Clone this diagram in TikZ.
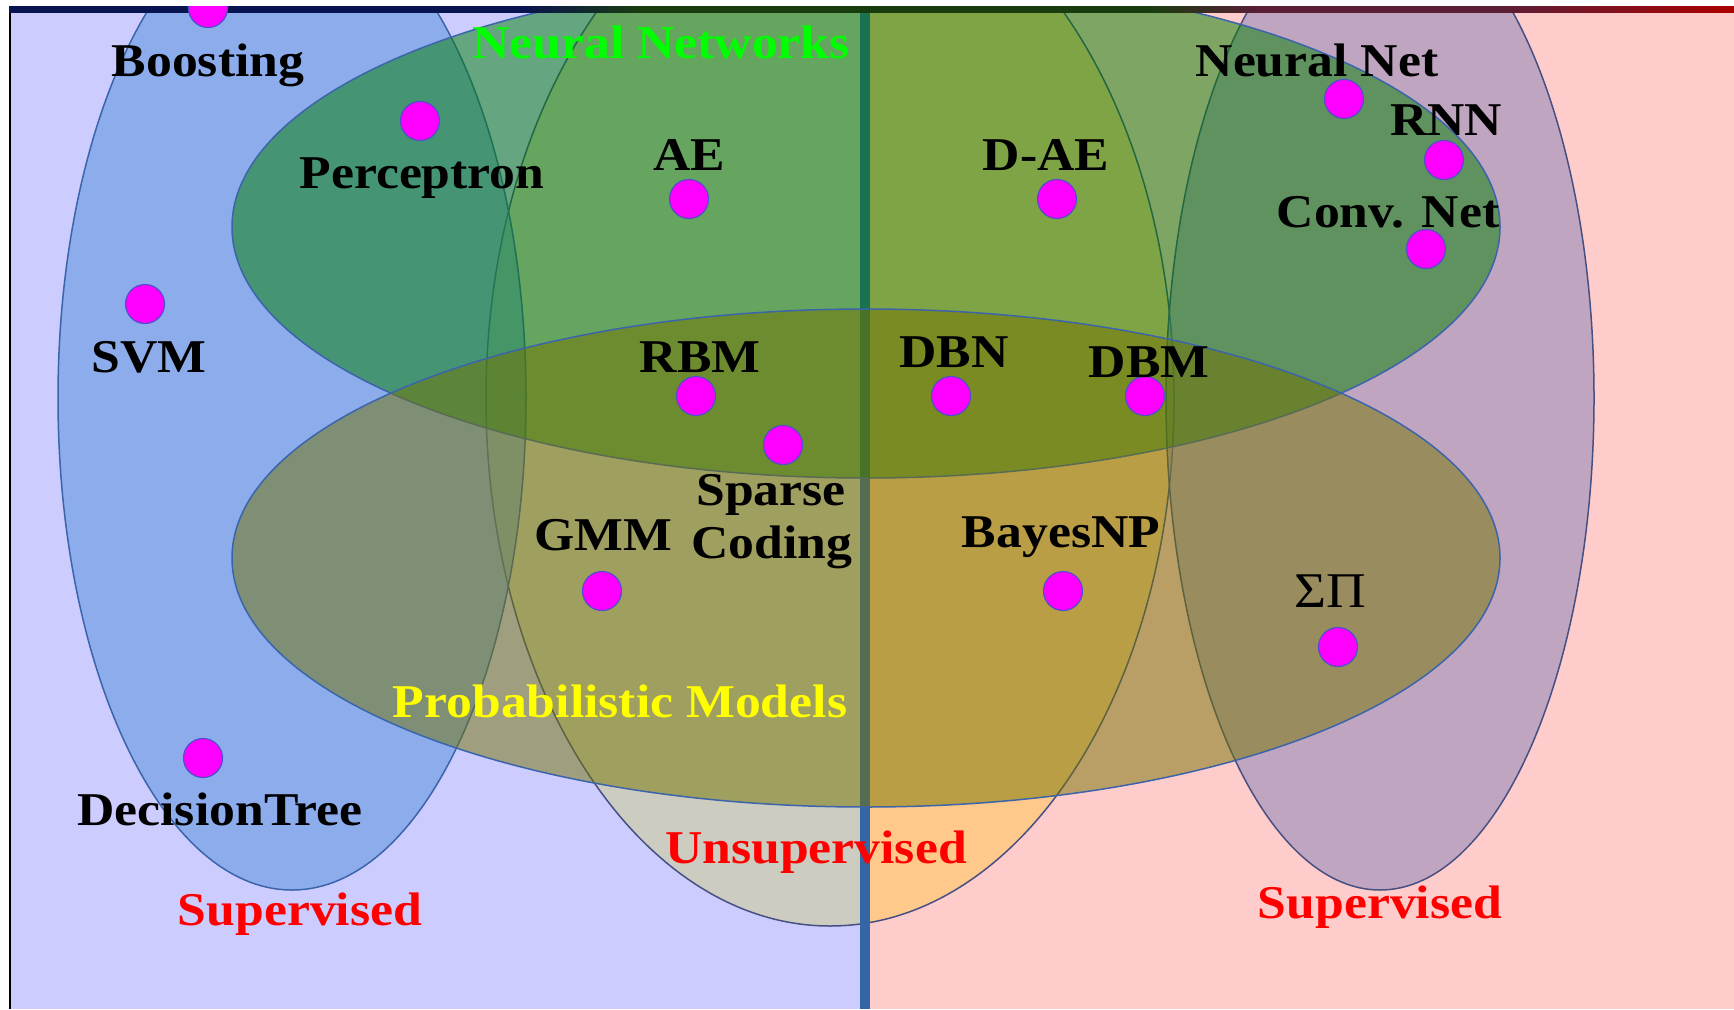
\documentclass[tikz,border=0pt]{standalone}
\usepackage{fontspec}
\setmainfont{Liberation Serif}[FakeStretch=1.1]
\definecolor{lavbg}{RGB}{204,204,255}
\definecolor{pinkbg}{RGB}{255,204,204}
\definecolor{divider}{RGB}{52,101,164}
\definecolor{supblue}{RGB}{78,142,219}
\definecolor{suppurple}{RGB}{129,128,180}
\definecolor{unsupL}{RGB}{204,204,192}
\definecolor{unsupR}{RGB}{255,201,139}
\definecolor{nngreen}{RGB}{0,128,0}
\definecolor{probolive}{RGB}{116,116,0}
\definecolor{edgeb}{RGB}{60,100,170}
\definecolor{edged}{RGB}{70,80,130}
\definecolor{dotedge}{RGB}{80,80,200}
\definecolor{bandnavy}{RGB}{8,20,80}
\definecolor{bandgreen}{RGB}{25,60,15}
\definecolor{bandpurple}{RGB}{90,30,55}
\definecolor{bandred}{RGB}{170,0,0}
\begin{document}
\begin{tikzpicture}[x=1pt,y=-1pt,
  dotn/.style={circle,minimum size=39pt,inner sep=0pt,fill={rgb,255:red,255;green,0;blue,255},draw=dotedge,line width=1.2pt},
  lbl/.style={anchor=base,inner sep=0pt,font=\fontsize{47}{53}\selectfont\bfseries},
  region/.style={fill opacity=0.5,draw opacity=1,line width=1.5pt}]
\useasboundingbox (0,0) rectangle (1734,1009);
% background
\fill[white] (0,0) rectangle (1734,1009);
\fill[lavbg] (11,6) rectangle (865,1009);
\fill[pinkbg] (865,6) rectangle (1734,1009);
\fill[black] (9,6) rectangle (11,1009);
% unsupervised (opaque, split colours)
\begin{scope}
  \clip (0,0) rectangle (865,1009);
  \fill[unsupL] (830,399) ellipse [x radius=344, y radius=527];
\end{scope}
\begin{scope}
  \clip (865,0) rectangle (1734,1009);
  \fill[unsupR] (830,399) ellipse [x radius=344, y radius=527];
\end{scope}
\draw[edged,line width=1.5pt] (830,399) ellipse [x radius=344, y radius=527];
% divider
\coordinate (dtop) at (865,6);
\coordinate (dbot) at (865,1009);
\draw[divider,line width=10pt] (dtop) -- (dbot);
% supervised ellipses
\filldraw[region,fill=supblue,draw=edgeb] (292,398) ellipse [x radius=234, y radius=492];
\filldraw[region,fill=suppurple,draw=edged] (1380,398) ellipse [x radius=214, y radius=492];
% neural networks
\filldraw[region,fill=nngreen,draw=edgeb] (866,227) ellipse [x radius=634, y radius=251];
% probabilistic models
\filldraw[region,fill=probolive,draw=edgeb] (866,558) ellipse [x radius=634, y radius=249];
% top dark band
\shade[left color=bandnavy,right color=bandnavy] (9,6) rectangle (520,12);
\shade[left color=bandnavy,right color=bandgreen] (520,6) rectangle (640,12);
\shade[left color=bandgreen,right color=bandgreen] (640,6) rectangle (1150,12);
\shade[left color=bandgreen,right color=bandpurple] (1150,6) rectangle (1260,12);
\shade[left color=bandpurple,right color=bandpurple] (1260,6) rectangle (1500,12);
\shade[left color=bandpurple,right color=bandred] (1500,6) rectangle (1734,12);
% dots
\node[dotn] (boost) at (208,8) {};
\node[dotn] (perc) at (420,121) {};
\node[dotn] (ae) at (689,199) {};
\node[dotn] (dae) at (1057,199) {};
\node[dotn] (nnet) at (1344,99) {};
\node[dotn] (rnn) at (1444,160) {};
\node[dotn] (conv) at (1426,249) {};
\node[dotn] (svm) at (145,304) {};
\node[dotn] (rbm) at (696,396) {};
\node[dotn] (sparse) at (783,445) {};
\node[dotn] (dbn) at (951,396) {};
\node[dotn] (dbm) at (1145,396) {};
\node[dotn] (gmm) at (602,591) {};
\node[dotn] (bayes) at (1063,591) {};
\node[dotn] (sigpi) at (1338,647) {};
\node[dotn] (dtree) at (203,758) {};
% white top strip
\fill[white] (0,0) rectangle (1734,6);
% labels
\node[lbl] (tboost) at (208,76) {Boosting};
\node[lbl,text={rgb,255:red,0;green,255;blue,0}] (tnn) at (661,58) {Neural Networks};
\node[lbl] (tperc) at (422,188) {Perceptron};
\node[lbl] (tae) at (689,170) {AE};
\node[lbl] (tdae) at (1046,170) {D-AE};
\node[lbl] (tnnet) at (1317,76) {Neural Net};
\node[lbl] (trnn) at (1446,135) {RNN};
\node[lbl] (tconv) at (1388,227) {Conv. Net};
\node[lbl] (tsvm) at (149,372) {SVM};
\node[lbl] (trbm) at (700,372) {RBM};
\node[lbl] (tdbn) at (954,367) {DBN};
\node[lbl] (tdbm) at (1149,377) {DBM};
\node[lbl] (tsparse) at (771,505) {Sparse};
\node[lbl] (tcoding) at (772,558) {Coding};
\node[lbl] (tgmm) at (603,550) {GMM};
\node[lbl] (tbayes) at (1061,547) {BayesNP};
\node[anchor=base,inner sep=0pt,font=\fontsize{50}{56}\selectfont] (tsigpi) at (1330,607) {ΣΠ};
\node[lbl,text={rgb,255:red,255;green,255;blue,0}] (tprob) at (620,717) {Probabilistic Models};
\node[lbl] (tdtree) at (220,825) {DecisionTree};
\node[lbl,text=red] (tsupl) at (300,925) {Supervised};
\node[lbl,text=red] (tunsup) at (816,863) {Unsupervised};
\node[lbl,text=red] (tsupr) at (1380,918) {Supervised};
\end{tikzpicture}
\end{document}
